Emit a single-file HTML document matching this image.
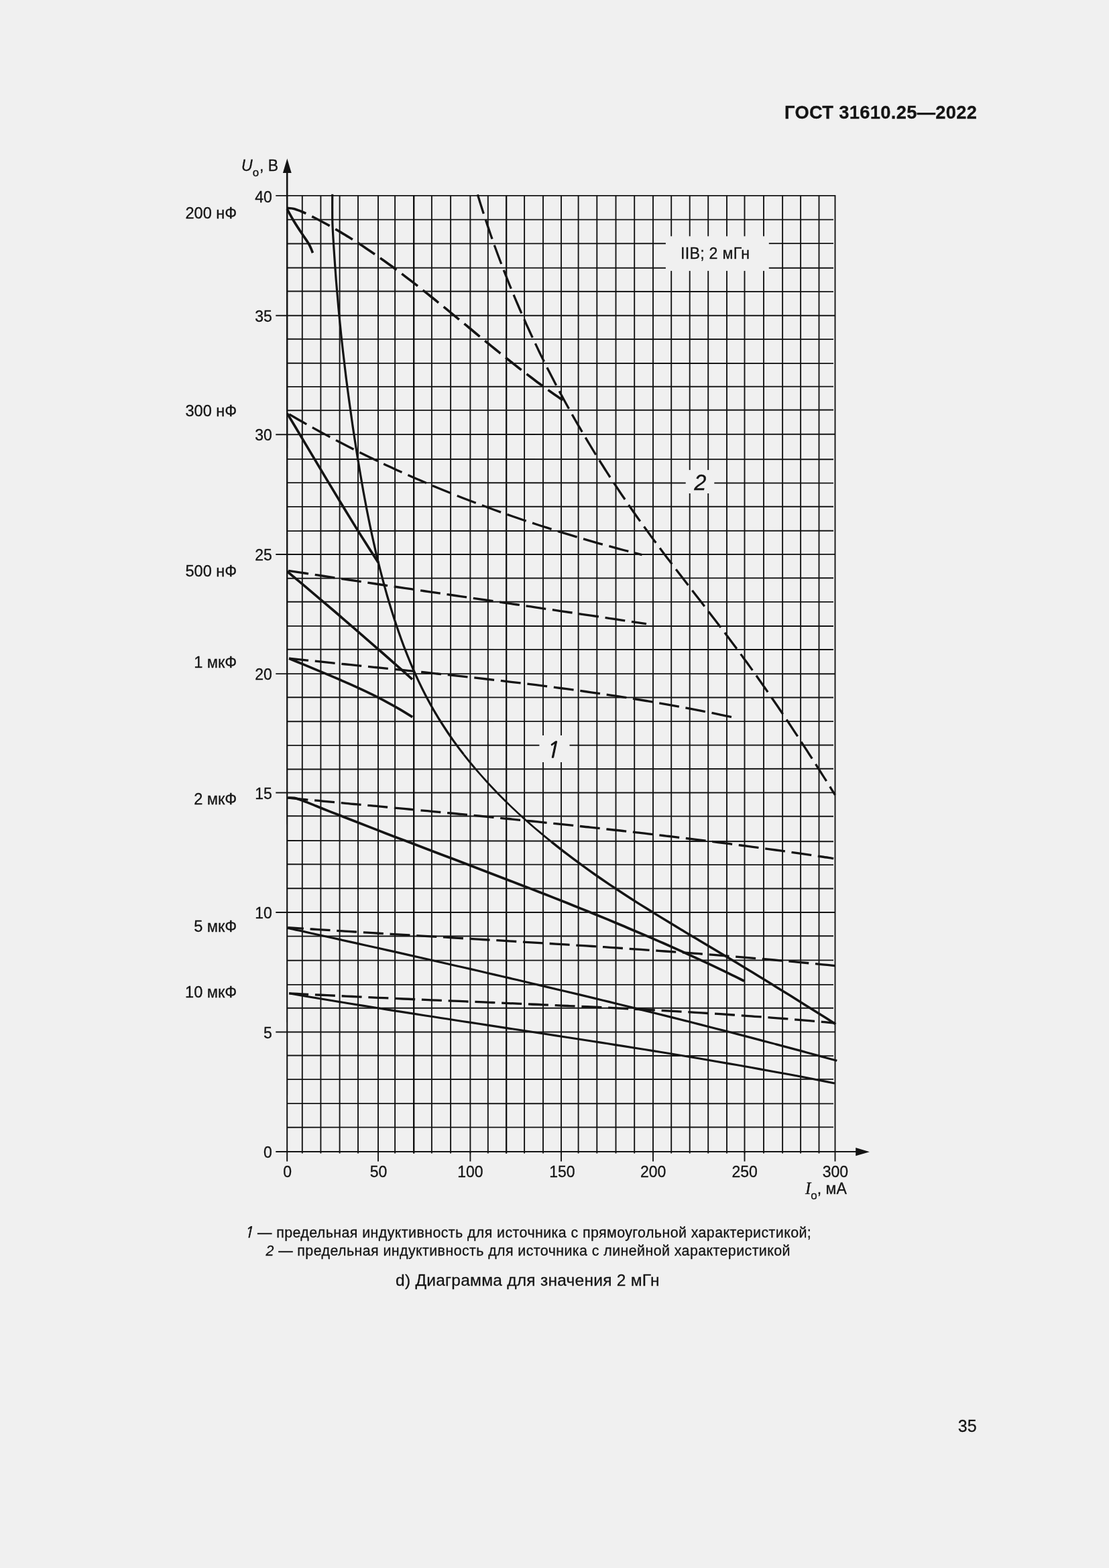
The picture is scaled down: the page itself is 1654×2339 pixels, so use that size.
<!DOCTYPE html>
<html lang="ru"><head><meta charset="utf-8"><title>ГОСТ 31610.25—2022</title>
<style>
html,body{margin:0;padding:0;background:#f0f0f0;}
body{width:1654px;height:2339px;overflow:hidden;position:relative;}
svg{position:absolute;left:0;top:0;display:block;}
text{font-family:"Liberation Sans",sans-serif;fill:#141414;stroke:#141414;stroke-width:0.3px;}
.t{font-size:23px;}
.r{text-anchor:end;}
.m{text-anchor:middle;}
.i{font-style:italic;}
.g{stroke:#141414;stroke-width:1.9;fill:none;}
.c{stroke:#141414;fill:none;stroke-linecap:butt;stroke-linejoin:round;}
</style></head><body>
<svg width="1654" height="2339" viewBox="0 0 1654 2339">
<rect x="0" y="0" width="1654" height="2339" fill="#f0f0f0"/>
<text x="1170" y="176.9" textLength="287" lengthAdjust="spacing" style="font-size:27.3px;font-weight:bold">ГОСТ 31610.25—2022</text>
<path class="g" d="M450.8 291.9V1720.5M478.4 291.9V1720.5M506.6 291.9V1720.5M534 291.9V1720.5M564 291.9V1720.5M589.1 291.9V1720.5M617.2 291.9V1720.5M643.9 291.9V1720.5M672.1 291.9V1720.5M701.4 291.9V1720.5M727.8 291.9V1720.5M755.2 291.9V1720.5M782.1 291.9V1720.5M810 291.9V1720.5M837 291.9V1720.5M862.6 291.9V1720.5M890.3 291.9V1720.5M918.5 291.9V1720.5M946.2 291.9V1720.5M974 291.9V1720.5M1001.2 291.9V1720.5M1028.7 291.9V1720.5M1056.2 291.9V1720.5M1084 291.9V1720.5M1110.5 291.9V1720.5M1139 291.9V1720.5M1167.1 291.9V1720.5M1194.1 291.9V1720.5M1221.5 291.9V1720.5"/>
<path class="g" d="M428 1681.7L1243 1681.4M428 1646.1L1243 1646.4M428 1610.1L1243 1609.9M428 1574.5L1243 1575.1M411.3 1539.5L1245.5 1539.4M428 1503.8L1243 1503.7M428 1468.9L1243 1468.9M428 1432.7L1243 1432.4M428 1396.6L1243 1396.2M411.3 1361L1245.5 1361M428 1325.3L1243 1325.5M428 1289.3L1243 1290.1M428 1254L1243 1255.3M428 1217.3L1243 1217.7M411.3 1182.5L1245.5 1182.4M428 1147.5L1243 1146.8M428 1111.9L1243 1111.5M428 1076.2L1243 1076.1M428 1040.3L1243 1040.5M411.3 1005.1L1245.5 1005.2M428 968.8L1243 969M428 933.9L1243 934M428 897.7L1243 897.9M428 862.7L1243 862.3M411.3 827L1245.5 826.9M428 792.1L1243 791.8M428 755.9L1243 755.7M428 720.1L1243 720.6M428 684.9L1243 685.2M411.3 648.2L1245.5 647.8M428 612.2L1243 611.5M428 576.9L1243 576.6M428 541.8L1243 542.1M428 505.8L1243 506.1M411.3 470.8L1245.5 470.8M428 434.5L1243 435.1M428 399.5L1243 399.8M428 363.5L1243 363.1M428 327.6L1243 327.6"/>
<path class="g" d="M411.3 291.9H1246.4M1245.5 291.9V1732.6"/>
<path class="g" style="stroke-width:2.1;stroke:#080808" d="M617.2 291.9V1720.5"/>
<path fill="#141414" d="M426.9 250H429.5L429.2 1732.6H427.2Z"/>
<path class="g" style="stroke-width:2.1" d="M411.3 1718H1280"/>
<path class="g" style="stroke-width:2.2" d="M755.1 291.9V1720.5"/>
<path class="g" d="M564 1718V1732.6M701.4 1718V1732.6M837 1718V1732.6M974 1718V1732.6M1110.5 1718V1732.6"/>
<path fill="#141414" d="M428.3 236.5L434.7 258H421.9Z"/>
<path fill="#141414" d="M1296.9 1718.2L1276.2 1712.1V1724.3Z"/>
<rect x="992.9" y="352.4" width="153.9" height="51.7" fill="#f0f0f0"/>
<rect x="1022.7" y="701.1" width="42.6" height="34.9" fill="#f0f0f0"/>
<rect x="804.4" y="1097" width="45.1" height="40" fill="#f0f0f0"/>
<path class="c" stroke-width="3.7" d="M428.1 311.8C429.8 314.9 434.7 323.9 438.5 330.2C442.3 336.5 447.4 344.1 451 349.5C454.6 354.9 457.7 359.2 459.9 362.8C462.1 366.4 462.9 368.6 464 371C465.1 373.4 466 376.2 466.4 377.2"/>
<path class="c" stroke-width="3.6" stroke-dasharray="30 9.80" stroke-dashoffset="0.26" d="M428.1 310.3C429.8 310.5 434.9 310.5 438.5 311.4C442.1 312.3 446.6 314.3 449.6 315.5C452.6 316.7 452.9 316.8 456.2 318.4C459.5 320 465.1 322.8 469.5 325C474 327.3 478.3 329.6 482.7 332C487.1 334.3 491.4 336.7 495.7 339.2C500 341.6 504.2 344.1 508.5 346.6C512.7 349.1 516.9 351.7 521.1 354.3C525.3 356.9 529.5 359.6 533.6 362.2C537.8 364.9 541.9 367.6 546 370.4C550.1 373.1 554.2 375.9 558.2 378.7C562.3 381.5 566.3 384.3 570.3 387.2C574.3 390 578.3 392.9 582.3 395.8C586.3 398.7 590.3 401.7 594.2 404.6C598.2 407.6 602.1 410.6 606 413.6C610 416.6 613.9 419.6 617.8 422.6C621.7 425.7 625.6 428.7 629.4 431.8C633.3 434.9 637.2 437.9 641 441C644.9 444.1 648.8 447.2 652.6 450.3C656.4 453.5 660.3 456.6 664.1 459.7C668 462.9 671.8 466 675.6 469.1C679.4 472.3 683.3 475.4 687.1 478.6C690.9 481.7 694.7 484.9 698.6 488C702.4 491.2 706.2 494.3 710 497.5C713.8 500.6 717.7 503.8 721.5 506.9C725.3 510.1 729.2 513.2 733 516.3C736.8 519.4 740.7 522.6 744.5 525.7C748.4 528.8 752.2 531.9 756.1 535C760 538 763.9 541.1 767.7 544.2C771.6 547.2 775.5 550.3 779.4 553.3C783.4 556.3 787.3 559.3 791.2 562.3C795.1 565.3 799.1 568.2 803.1 571.2C807 574.1 811 577 815 579.9C819 582.8 823 585.6 827 588.5C831.1 591.3 837.2 595.5 839.2 596.9"/>
<path class="c" stroke-width="3.3" stroke-dasharray="30 9.76" stroke-dashoffset="-0.06" d="M712.3 290.1C713.1 292.6 715.4 300.3 717 305.3C718.6 310.4 720.2 315.5 721.9 320.5C723.5 325.6 725.2 330.6 726.9 335.6C728.6 340.7 730.3 345.7 732 350.7C733.8 355.7 735.6 360.7 737.3 365.7C739.1 370.7 741 375.7 742.8 380.7C744.6 385.6 746.5 390.6 748.4 395.5C750.3 400.5 752.2 405.4 754.2 410.4C756.1 415.3 758.1 420.2 760 425.1C762 430 764 434.9 766.1 439.8C768.1 444.7 770.2 449.6 772.3 454.5C774.3 459.3 776.4 464.2 778.6 469C780.7 473.9 782.9 478.7 785 483.6C787.2 488.4 789.4 493.2 791.6 498C793.9 502.8 796.1 507.6 798.4 512.4C800.6 517.2 802.9 521.9 805.2 526.7C807.5 531.5 809.9 536.2 812.2 541C814.6 545.7 817 550.4 819.4 555.1C821.8 559.8 824.2 564.5 826.7 569.2C829.1 573.9 831.6 578.6 834.1 583.3C836.5 588 839.1 592.6 841.6 597.3C844.1 601.9 846.7 606.5 849.3 611.2C851.8 615.8 854.4 620.4 857 625C859.7 629.6 862.3 634.2 865 638.7C867.6 643.3 870.3 647.9 873 652.4C875.7 657 878.4 661.5 881.2 666C883.9 670.6 886.7 675.1 889.5 679.6C892.3 684.1 895.1 688.6 897.9 693C900.7 697.5 903.6 702 906.4 706.4C909.3 710.9 912.2 715.3 915.1 719.7C918 724.1 920.9 728.6 923.9 733C926.8 737.4 929.8 741.7 932.8 746.1C935.8 750.5 938.8 754.8 941.8 759.2C944.8 763.5 947.8 767.9 950.9 772.2C954 776.5 957.1 780.8 960.2 785.1C963.3 789.4 966.4 793.7 969.5 797.9C972.6 802.2 975.8 806.5 978.9 810.7C982.1 815 985.3 819.2 988.5 823.4C991.7 827.7 994.9 831.9 998.1 836.1C1001.3 840.3 1004.5 844.5 1007.7 848.7C1010.9 852.9 1014.2 857.1 1017.4 861.3C1020.6 865.5 1023.9 869.7 1027.1 873.9C1030.3 878.1 1033.6 882.3 1036.8 886.5C1040.1 890.7 1043.3 894.9 1046.6 899.1C1049.8 903.3 1053 907.5 1056.3 911.6C1059.5 915.8 1062.7 920 1066 924.2C1069.2 928.5 1072.4 932.7 1075.6 936.9C1078.8 941.1 1082 945.3 1085.2 949.5C1088.4 953.8 1091.6 958 1094.7 962.2C1097.9 966.5 1101.1 970.7 1104.2 975C1107.3 979.3 1110.5 983.5 1113.6 987.8C1116.7 992.1 1119.8 996.4 1122.9 1000.7C1125.9 1005 1129 1009.3 1132.1 1013.7C1135.1 1018 1138.1 1022.3 1141.2 1026.7C1144.2 1031 1147.2 1035.3 1150.2 1039.7C1153.2 1044.1 1156.2 1048.4 1159.2 1052.8C1162.1 1057.2 1165.1 1061.6 1168.1 1065.9C1171 1070.3 1174 1074.7 1176.9 1079.1C1179.8 1083.5 1182.7 1087.9 1185.6 1092.4C1188.6 1096.8 1191.5 1101.2 1194.3 1105.6C1197.2 1110.1 1200.1 1114.5 1203 1118.9C1205.9 1123.4 1208.7 1127.8 1211.6 1132.3C1214.4 1136.7 1217.3 1141.1 1220.1 1145.6C1223 1150.1 1225.8 1154.5 1228.6 1159C1231.4 1163.4 1234.3 1167.9 1237.1 1172.4C1239.9 1176.9 1244.1 1183.6 1245.5 1185.8"/>
<path class="c" stroke-width="3.2" d="M495.7 289.8C495.7 295.7 495.6 316.8 495.7 325C495.8 333.2 495.8 332.3 496.1 339.1C496.4 345.9 497.1 356.8 497.6 365.6C498.2 374.4 498.8 383.2 499.4 392.1C500 400.9 500.7 409.7 501.3 418.5C502 427.3 502.8 436.1 503.6 444.9C504.3 453.7 505.1 462.5 506 471.3C506.8 480.1 507.7 488.8 508.6 497.6C509.5 506.4 510.5 515.2 511.5 523.9C512.5 532.7 513.5 541.5 514.6 550.2C515.6 559 516.7 567.7 517.9 576.5C519 585.2 520.2 594 521.4 602.7C522.6 611.5 523.8 620.2 525.1 628.9C526.3 637.6 527.7 646.4 529 655.1C530.3 663.8 531.7 672.5 533.1 681.2C534.5 689.9 536 698.7 537.5 707.4C539 716.1 540.5 724.8 542 733.4C543.6 742.1 545.2 750.8 546.9 759.5C548.6 768.1 550.3 776.8 552.1 785.4C554 794.1 555.8 802.7 557.8 811.3C559.7 820 561.7 828.6 563.8 837.2C565.9 845.8 568.1 854.3 570.4 862.9C572.6 871.5 575 880 577.4 888.5C579.9 897 582.4 905.5 585.1 914C587.8 922.5 590.5 930.9 593.4 939.3C596.3 947.7 599.3 956.1 602.4 964.4C605.6 972.7 608.9 980.9 612.3 989.1C615.7 997.2 619.3 1005.3 623 1013.3C626.7 1021.3 630.6 1029.2 634.6 1037C638.7 1044.8 642.9 1052.6 647.3 1060.1C651.7 1067.7 656.3 1075.2 661.1 1082.5C665.8 1089.9 670.7 1097.1 675.8 1104.3C680.9 1111.4 686.1 1118.4 691.5 1125.3"/>
<path class="c" stroke-width="3.0" d="M691.5 1125.3C696.9 1132.2 702.4 1139 708.1 1145.7"/>
<path class="c" stroke-width="2.7" d="M708.1 1145.7C713.7 1152.4 719.6 1159 725.5 1165.5C731.4 1172 737.5 1178.4 743.6 1184.7C749.8 1191 756.1 1197.2 762.5 1203.4C768.9 1209.5 775.4 1215.5 782 1221.4C788.6 1227.3 795.3 1233.2 802 1238.9C808.8 1244.7 815.7 1250.4 822.6 1255.9"/>
<path class="c" stroke-width="3.5" d="M822.6 1255.9C829.5 1261.5 836.5 1267 843.6 1272.4C850.6 1277.8 857.8 1283.2 865 1288.4C872.1 1293.7 879.4 1298.9 886.6 1304C893.9 1309.1 901.2 1314.1 908.6 1319.1C915.9 1324 923.3 1328.9 930.7 1333.8C938.1 1338.6 945.6 1343.3 953 1348.1C960.5 1352.8 967.9 1357.4 975.4 1362.1C982.9 1366.7 990.4 1371.3 997.9 1375.8C1005.4 1380.4 1012.9 1384.9 1020.5 1389.4C1028 1394 1035.6 1398.5 1043.1 1403C1050.7 1407.5 1058.2 1412 1065.8 1416.5C1073.3 1421 1080.9 1425.5 1088.4 1430C1096 1434.6 1103.5 1439.1 1111.1 1443.7C1118.6 1448.3 1126.2 1452.9 1133.7 1457.5C1141.2 1462.1 1148.8 1466.7 1156.3 1471.4C1163.8 1476 1171.3 1480.7 1178.9 1485.3C1186.4 1490 1193.9 1494.7 1201.4 1499.4C1208.9 1504.1 1216.4 1508.8 1223.9 1513.5C1231.3 1518.2 1242.6 1525.3 1246.3 1527.7"/>
<path class="c" stroke-width="3.7" d="M428.3 616.6C431.5 621.9 441.1 637.9 447.5 648.6C453.9 659.2 460.2 669.9 466.6 680.6C473 691.3 479.3 702 485.7 712.6C492.1 723.3 498.5 734 505 744.6C511.4 755.2 517.9 765.9 524.4 776.4C530.9 787 537.5 797.6 544.2 808C550.9 818.5 561 834.2 564.4 839.4"/>
<path class="c" stroke-width="3.3" stroke-dasharray="30 9.81" stroke-dashoffset="-3.45" d="M428.3 616.2C431 617.7 438.9 622.4 444.2 625.5C449.6 628.5 454.9 631.6 460.3 634.6C465.6 637.6 471 640.5 476.4 643.5C481.8 646.4 487.2 649.4 492.6 652.2C498.1 655.1 503.5 658 509 660.8C514.4 663.6 519.9 666.4 525.4 669.2C530.9 672 536.4 674.7 541.9 677.5C547.4 680.2 552.9 682.9 558.5 685.5C564 688.2 569.5 690.8 575.1 693.4C580.7 696 586.3 698.6 591.9 701.2C597.5 703.7 603.1 706.2 608.7 708.7C614.3 711.2 619.9 713.7 625.6 716.1C631.2 718.6 636.9 721 642.5 723.4C648.2 725.8 653.9 728.1 659.6 730.5C665.3 732.8 671 735.1 676.7 737.4C682.4 739.7 688.1 742 693.9 744.2C699.6 746.4 705.3 748.6 711.1 750.8C716.8 753 722.6 755.1 728.4 757.3C734.2 759.4 739.9 761.5 745.7 763.6C751.5 765.6 757.3 767.7 763.1 769.7C769 771.7 774.8 773.7 780.6 775.7C786.4 777.7 792.3 779.6 798.1 781.5C803.9 783.5 809.8 785.4 815.7 787.2C821.5 789.1 827.4 791 833.3 792.8C839.1 794.6 845 796.4 850.9 798.2C856.8 800 862.7 801.7 868.6 803.5C874.5 805.2 880.4 806.9 886.3 808.6C892.2 810.3 898.1 811.9 904.1 813.5C910 815.2 915.9 816.8 921.8 818.4C927.8 820 933.7 821.5 939.7 823.1C945.6 824.6 954.5 826.8 957.5 827.6"/>
<path class="c" stroke-width="3.7" d="M428.4 852.5C432.3 855.8 444.2 865.6 452 872.2C459.9 878.8 467.7 885.5 475.5 892.1C483.4 898.7 491.2 905.4 499 912C506.8 918.7 514.5 925.4 522.3 932.1C530.1 938.8 537.8 945.5 545.6 952.3C553.3 959 561.1 965.7 568.8 972.5C576.5 979.3 584.2 986.1 591.9 992.9C599.6 999.7 611.1 1009.9 614.9 1013.3"/>
<path class="c" stroke-width="3.3" stroke-dasharray="30 9.78" stroke-dashoffset="-2.00" d="M428.4 851C431.5 851.5 440.7 852.9 446.9 853.8C453 854.8 459.2 855.7 465.3 856.7C471.5 857.6 477.6 858.5 483.8 859.5C489.9 860.4 496.1 861.3 502.2 862.2C508.4 863.2 514.6 864.1 520.7 865C526.9 865.9 533 866.9 539.2 867.8C545.3 868.7 551.5 869.6 557.7 870.5C563.8 871.5 570 872.4 576.1 873.3C582.3 874.2 588.4 875.1 594.6 876C600.8 876.9 606.9 877.8 613.1 878.7C619.2 879.6 625.4 880.6 631.6 881.5C637.7 882.4 643.9 883.3 650 884.2C656.2 885.1 662.4 886 668.5 886.9C674.7 887.8 680.8 888.7 687 889.6C693.1 890.5 699.3 891.4 705.5 892.3C711.6 893.2 717.8 894.1 723.9 895C730.1 895.9 736.3 896.8 742.4 897.7C748.6 898.6 754.7 899.5 760.9 900.4C767.1 901.3 773.2 902.2 779.4 903.1C785.5 904 791.7 904.9 797.8 905.9C804 906.8 810.2 907.7 816.3 908.6C822.5 909.5 828.6 910.4 834.8 911.3C840.9 912.2 847.1 913.1 853.3 914C859.4 915 865.6 915.9 871.7 916.8C877.9 917.7 884 918.6 890.2 919.5C896.3 920.5 902.5 921.4 908.6 922.3C914.8 923.2 920.9 924.2 927.1 925.1C933.2 926 939.4 927 945.5 927.9C951.7 928.8 960.9 930.2 964 930.7"/>
<path class="c" stroke-width="3.7" d="M431.1 982.2C434.6 983.7 445 988 452 990.9C458.9 993.8 465.9 996.7 472.9 999.6C479.9 1002.5 486.9 1005.4 493.9 1008.4C500.8 1011.3 507.8 1014.3 514.7 1017.4C521.6 1020.4 528.6 1023.5 535.4 1026.7C542.3 1029.9 549.1 1033.1 555.9 1036.4C562.7 1039.8 569.4 1043.2 576.1 1046.8C582.7 1050.3 589.3 1054 595.9 1057.8C602.4 1061.6 612 1067.6 615.2 1069.6"/>
<path class="c" stroke-width="3.3" stroke-dasharray="30 9.80" stroke-dashoffset="0.92" d="M431.1 982.1C434.2 982.4 443.4 983.4 449.5 984.1C455.6 984.7 461.8 985.4 467.9 986C474 986.6 480.2 987.3 486.3 987.9C492.4 988.5 498.6 989.2 504.7 989.8C510.8 990.4 517 991.1 523.1 991.7C529.3 992.3 535.4 993 541.5 993.6C547.7 994.2 553.8 994.8 559.9 995.5C566.1 996.1 572.2 996.7 578.4 997.3C584.5 998 590.6 998.6 596.8 999.2C602.9 999.9 609.1 1000.5 615.2 1001.1C621.4 1001.8 627.5 1002.4 633.6 1003C639.8 1003.7 645.9 1004.3 652 1005C658.2 1005.6 664.3 1006.3 670.5 1006.9C676.6 1007.6 682.7 1008.2 688.9 1008.9C695 1009.6 701.1 1010.3 707.3 1010.9C713.4 1011.6 719.5 1012.3 725.7 1013C731.8 1013.7 737.9 1014.4 744.1 1015.1C750.2 1015.8 756.3 1016.5 762.5 1017.3C768.6 1018 774.7 1018.7 780.8 1019.5C787 1020.2 793.1 1021 799.2 1021.7C805.3 1022.5 811.5 1023.3 817.6 1024.1C823.7 1024.9 829.8 1025.7 835.9 1026.5C842 1027.3 848.2 1028.1 854.3 1028.9C860.4 1029.8 866.5 1030.6 872.6 1031.5C878.7 1032.4 884.8 1033.2 890.9 1034.1C897 1035 903.1 1035.9 909.2 1036.8C915.3 1037.7 921.4 1038.7 927.5 1039.6C933.6 1040.6 939.7 1041.5 945.7 1042.5C951.8 1043.5 957.9 1044.5 964 1045.5C970.1 1046.5 976.2 1047.6 982.2 1048.6C988.3 1049.7 994.4 1050.8 1000.4 1051.8C1006.5 1052.9 1012.6 1054 1018.6 1055.2C1024.7 1056.3 1030.8 1057.4 1036.8 1058.6C1042.9 1059.8 1048.9 1061 1055 1062.2C1061 1063.4 1067.1 1064.6 1073.1 1065.9C1079.1 1067.1 1088.2 1069.1 1091.2 1069.7"/>
<path class="c" stroke-width="3.7" d="M429.2 1190.2C430.8 1190.2 435.4 1189.8 439 1190.4C442.6 1191 445.4 1192 450.8 1194C456.2 1196 464.5 1199.6 471.4 1202.3C478.3 1205.1 485.2 1207.8 492.1 1210.6C499 1213.3 505.9 1216 512.8 1218.7C519.7 1221.4 526.6 1224.1 533.5 1226.8C540.4 1229.5 547.3 1232.2 554.3 1234.9C561.2 1237.6 568.1 1240.2 575 1242.9C582 1245.6 588.9 1248.2 595.8 1250.9C602.7 1253.5 609.7 1256.2 616.6 1258.8C623.6 1261.5 630.5 1264.1 637.4 1266.7C644.4 1269.4 651.3 1272 658.3 1274.7C665.2 1277.3 672.1 1279.9 679.1 1282.6C686 1285.2 693 1287.9 699.9 1290.5C706.8 1293.1 713.8 1295.8 720.7 1298.4C727.6 1301.1 734.6 1303.7 741.5 1306.4C748.4 1309.1 755.4 1311.7 762.3 1314.4C769.2 1317.1 776.2 1319.7 783.1 1322.4C790 1325.1 796.9 1327.8 803.8 1330.5C810.7 1333.2 817.7 1335.9 824.6 1338.6C831.5 1341.4 838.4 1344.1 845.3 1346.8C852.2 1349.6 859 1352.3 865.9 1355.1C872.8 1357.9 879.7 1360.7 886.6 1363.5C893.4 1366.3 900.3 1369.1 907.2 1371.9C914 1374.8 920.9 1377.6 927.7 1380.5C934.5 1383.4 941.4 1386.2 948.2 1389.2C955 1392.1 961.8 1395 968.6 1397.9C975.5 1400.9 982.2 1403.9 989 1406.8C995.8 1409.8 1002.6 1412.8 1009.4 1415.9C1016.1 1418.9 1022.9 1422 1029.6 1425.1C1036.4 1428.2 1043.1 1431.3 1049.8 1434.4C1056.6 1437.5 1063.3 1440.7 1070 1443.9C1076.7 1447.1 1083.4 1450.3 1090 1453.6C1096.7 1456.8 1106.7 1461.8 1110 1463.4"/>
<path class="c" stroke-width="3.3" stroke-dasharray="30 9.76" stroke-dashoffset="-0.32" d="M429.2 1190.2C432.1 1190.5 440.8 1191.3 446.5 1191.8C452.3 1192.4 458.1 1192.9 463.9 1193.5C469.7 1194 475.5 1194.5 481.2 1195.1C487 1195.6 492.8 1196.2 498.6 1196.7C504.4 1197.2 510.2 1197.8 516 1198.3C521.7 1198.9 527.5 1199.4 533.3 1199.9C539.1 1200.5 544.9 1201 550.7 1201.6C556.4 1202.1 562.2 1202.6 568 1203.2C573.8 1203.7 579.6 1204.3 585.4 1204.8C591.2 1205.3 596.9 1205.9 602.7 1206.4C608.5 1207 614.3 1207.5 620.1 1208.1C625.9 1208.6 631.7 1209.2 637.4 1209.7C643.2 1210.3 649 1210.8 654.8 1211.4C660.6 1211.9 666.4 1212.5 672.1 1213C677.9 1213.6 683.7 1214.2 689.5 1214.7C695.3 1215.3 701.1 1215.8 706.8 1216.4C712.6 1217 718.4 1217.5 724.2 1218.1C730 1218.7 735.8 1219.2 741.5 1219.8C747.3 1220.4 753.1 1221 758.9 1221.5C764.7 1222.1 770.5 1222.7 776.2 1223.3C782 1223.9 787.8 1224.5 793.6 1225C799.4 1225.6 805.1 1226.2 810.9 1226.8C816.7 1227.4 822.5 1228 828.3 1228.6C834 1229.2 839.8 1229.8 845.6 1230.4C851.4 1231.1 857.2 1231.7 862.9 1232.3C868.7 1232.9 874.5 1233.5 880.3 1234.2C886 1234.8 891.8 1235.4 897.6 1236C903.4 1236.7 909.1 1237.3 914.9 1238C920.7 1238.6 926.5 1239.2 932.2 1239.9C938 1240.5 943.8 1241.2 949.6 1241.9C955.3 1242.5 961.1 1243.2 966.9 1243.9C972.6 1244.5 978.4 1245.2 984.2 1245.9C989.9 1246.6 995.7 1247.3 1001.5 1247.9C1007.2 1248.6 1013 1249.3 1018.8 1250C1024.5 1250.7 1030.3 1251.4 1036.1 1252.2C1041.8 1252.9 1047.6 1253.6 1053.4 1254.3C1059.1 1255 1064.9 1255.8 1070.7 1256.5C1076.4 1257.2 1082.2 1258 1087.9 1258.7C1093.7 1259.5 1099.5 1260.2 1105.2 1261C1111 1261.8 1116.7 1262.5 1122.5 1263.3C1128.2 1264.1 1134 1264.9 1139.7 1265.6C1145.5 1266.4 1151.2 1267.2 1157 1268C1162.8 1268.8 1168.5 1269.6 1174.3 1270.4C1180 1271.3 1185.8 1272.1 1191.5 1272.9C1197.2 1273.7 1203 1274.6 1208.7 1275.4C1214.5 1276.3 1220.2 1277.1 1226 1278C1231.7 1278.8 1240.3 1280.2 1243.2 1280.6"/>
<path class="c" stroke-width="3.2" d="M429.2 1384.4C433 1385.2 444.4 1387.8 452.1 1389.4C459.7 1391.1 467.3 1392.8 474.9 1394.5C482.5 1396.2 490.2 1397.8 497.8 1399.5C505.4 1401.2 513 1402.9 520.6 1404.6C528.2 1406.3 535.9 1408 543.5 1409.7C551.1 1411.4 558.7 1413.1 566.3 1414.8C573.9 1416.5 581.6 1418.2 589.2 1419.9C596.8 1421.7 604.4 1423.4 612 1425.1C619.6 1426.8 627.2 1428.5 634.8 1430.3C642.4 1432 650.1 1433.7 657.7 1435.5C665.3 1437.2 672.9 1438.9 680.5 1440.7C688.1 1442.4 695.7 1444.2 703.3 1445.9C710.9 1447.7 718.5 1449.4 726.1 1451.2C733.7 1453 741.3 1454.7 748.9 1456.5C756.5 1458.3 764.1 1460 771.7 1461.8C779.3 1463.6 786.9 1465.4 794.5 1467.2C802.1 1469 809.7 1470.8 817.3 1472.6C824.9 1474.4 832.5 1476.2 840.1 1478C847.6 1479.8 855.2 1481.6 862.8 1483.4C870.4 1485.3 878 1487.1 885.6 1488.9C893.2 1490.8 900.7 1492.6 908.3 1494.4C915.9 1496.3 923.5 1498.1 931.1 1500C938.6 1501.9 946.2 1503.7 953.8 1505.6C961.4 1507.5 968.9 1509.3 976.5 1511.2C984.1 1513.1 991.7 1515 999.2 1516.9C1006.8 1518.8 1014.4 1520.7 1021.9 1522.6C1029.5 1524.5 1037.1 1526.5 1044.6 1528.4C1052.2 1530.3 1059.7 1532.2 1067.3 1534.2C1074.9 1536.1 1082.4 1538.1 1090 1540C1097.5 1542 1105.1 1544 1112.6 1545.9C1120.2 1547.9 1127.7 1549.9 1135.3 1551.9C1142.8 1553.9 1150.4 1555.8 1157.9 1557.9C1165.4 1559.9 1173 1561.9 1180.5 1563.9C1188.1 1565.9 1195.6 1567.9 1203.1 1570C1210.7 1572 1218.2 1574.1 1225.7 1576.1C1233.2 1578.2 1244.5 1581.3 1248.3 1582.3"/>
<path class="c" stroke-width="3.3" stroke-dasharray="30 9.75" stroke-dashoffset="6.33" d="M429.2 1383.6C432.2 1383.8 441.3 1384.4 447.3 1384.8C453.4 1385.2 459.4 1385.6 465.5 1386C471.5 1386.4 477.6 1386.8 483.6 1387.2C489.7 1387.5 495.7 1387.9 501.8 1388.3C507.8 1388.7 513.9 1389.1 519.9 1389.4C526 1389.8 532 1390.2 538.1 1390.6C544.1 1390.9 550.2 1391.3 556.2 1391.7C562.3 1392.1 568.3 1392.4 574.4 1392.8C580.4 1393.2 586.5 1393.5 592.5 1393.9C598.6 1394.3 604.6 1394.6 610.7 1395C616.7 1395.3 622.8 1395.7 628.9 1396.1C634.9 1396.4 641 1396.8 647 1397.1C653.1 1397.5 659.1 1397.9 665.2 1398.2C671.2 1398.6 677.3 1398.9 683.3 1399.3C689.4 1399.7 695.4 1400 701.5 1400.4C707.5 1400.7 713.6 1401.1 719.6 1401.5C725.7 1401.8 731.7 1402.2 737.8 1402.5C743.8 1402.9 749.9 1403.3 756 1403.6C762 1404 768.1 1404.4 774.1 1404.7C780.2 1405.1 786.2 1405.5 792.3 1405.8C798.3 1406.2 804.4 1406.6 810.4 1407C816.5 1407.3 822.5 1407.7 828.6 1408.1C834.6 1408.5 840.7 1408.8 846.7 1409.2C852.8 1409.6 858.8 1410 864.9 1410.4C870.9 1410.8 877 1411.1 883 1411.5C889.1 1411.9 895.1 1412.3 901.2 1412.7C907.2 1413.1 913.3 1413.5 919.3 1413.9C925.4 1414.3 931.4 1414.7 937.5 1415.2C943.5 1415.6 949.5 1416 955.6 1416.4C961.6 1416.8 967.7 1417.2 973.7 1417.7C979.8 1418.1 985.8 1418.5 991.9 1419C997.9 1419.4 1003.9 1419.9 1010 1420.3C1016 1420.7 1022.1 1421.2 1028.1 1421.6C1034.2 1422.1 1040.2 1422.6 1046.2 1423C1052.3 1423.5 1058.3 1424 1064.4 1424.4C1070.4 1424.9 1076.4 1425.4 1082.5 1425.9C1088.5 1426.4 1094.5 1426.9 1100.6 1427.4C1106.6 1427.9 1112.7 1428.4 1118.7 1428.9C1124.7 1429.4 1130.8 1429.9 1136.8 1430.4C1142.8 1430.9 1148.9 1431.5 1154.9 1432C1160.9 1432.6 1167 1433.1 1173 1433.6C1179 1434.2 1185 1434.8 1191.1 1435.3C1197.1 1435.9 1203.1 1436.5 1209.2 1437C1215.2 1437.6 1221.2 1438.2 1227.2 1438.8C1233.3 1439.4 1242.3 1440.3 1245.3 1440.6"/>
<path class="c" stroke-width="3.1" d="M431.1 1481.8C434.9 1482.4 446.2 1484.4 453.7 1485.7C461.2 1487 468.7 1488.2 476.3 1489.5C483.8 1490.8 491.3 1492 498.9 1493.3C506.4 1494.5 513.9 1495.7 521.5 1497C529 1498.2 536.5 1499.4 544.1 1500.6C551.6 1501.9 559.2 1503.1 566.7 1504.3C574.2 1505.5 581.8 1506.7 589.3 1507.9C596.9 1509.1 604.4 1510.2 612 1511.4C619.5 1512.6 627 1513.8 634.6 1515C642.1 1516.1 649.7 1517.3 657.2 1518.5C664.8 1519.6 672.3 1520.8 679.9 1522C687.4 1523.1 695 1524.3 702.5 1525.4C710.1 1526.6 717.6 1527.8 725.2 1528.9C732.7 1530.1 740.3 1531.2 747.8 1532.4C755.4 1533.5 762.9 1534.7 770.5 1535.8C778 1537 785.6 1538.1 793.1 1539.3C800.7 1540.5 808.2 1541.6 815.8 1542.8C823.3 1543.9 830.9 1545.1 838.4 1546.3C846 1547.4 853.5 1548.6 861.1 1549.7C868.6 1550.9 876.1 1552.1 883.7 1553.3C891.2 1554.4 898.8 1555.6 906.3 1556.8C913.9 1558 921.4 1559.2 929 1560.4C936.5 1561.6 944 1562.8 951.6 1564C959.1 1565.2 966.7 1566.4 974.2 1567.6C981.7 1568.9 989.3 1570.1 996.8 1571.3C1004.3 1572.6 1011.9 1573.8 1019.4 1575C1026.9 1576.3 1034.5 1577.6 1042 1578.8C1049.5 1580.1 1057.1 1581.4 1064.6 1582.7C1072.1 1584 1079.6 1585.3 1087.2 1586.6C1094.7 1587.9 1102.2 1589.2 1109.7 1590.5C1117.2 1591.9 1124.8 1593.2 1132.3 1594.6C1139.8 1595.9 1147.3 1597.3 1154.8 1598.7C1162.3 1600 1169.8 1601.4 1177.3 1602.8C1184.8 1604.3 1192.3 1605.7 1199.8 1607.1C1207.3 1608.5 1214.8 1610 1222.3 1611.5C1229.8 1612.9 1241.1 1615.2 1244.8 1615.9"/>
<path class="c" stroke-width="3.3" stroke-dasharray="30 9.79" stroke-dashoffset="0.96" d="M431.1 1481.8C434.3 1482 443.7 1482.5 450 1482.8C456.3 1483.1 462.7 1483.5 469 1483.8C475.3 1484.1 481.6 1484.4 487.9 1484.7C494.2 1485 500.5 1485.3 506.8 1485.6C513.1 1485.9 519.5 1486.2 525.8 1486.5C532.1 1486.8 538.4 1487.1 544.7 1487.4C551 1487.7 557.3 1488 563.7 1488.3C570 1488.6 576.3 1488.8 582.6 1489.1C588.9 1489.4 595.2 1489.7 601.5 1490C607.9 1490.2 614.2 1490.5 620.5 1490.8C626.8 1491 633.1 1491.3 639.4 1491.6C645.7 1491.8 652.1 1492.1 658.4 1492.4C664.7 1492.6 671 1492.9 677.3 1493.2C683.6 1493.4 689.9 1493.7 696.3 1494C702.6 1494.2 708.9 1494.5 715.2 1494.7C721.5 1495 727.8 1495.3 734.2 1495.5C740.5 1495.8 746.8 1496.1 753.1 1496.3C759.4 1496.6 765.7 1496.9 772 1497.1C778.4 1497.4 784.7 1497.7 791 1498C797.3 1498.2 803.6 1498.5 809.9 1498.8C816.2 1499.1 822.6 1499.3 828.9 1499.6C835.2 1499.9 841.5 1500.2 847.8 1500.5C854.1 1500.8 860.4 1501 866.8 1501.3C873.1 1501.6 879.4 1501.9 885.7 1502.2C892 1502.5 898.3 1502.8 904.6 1503.1C910.9 1503.4 917.2 1503.8 923.6 1504.1C929.9 1504.4 936.2 1504.7 942.5 1505C948.8 1505.4 955.1 1505.7 961.4 1506C967.7 1506.4 974 1506.7 980.3 1507.1C986.7 1507.4 993 1507.8 999.3 1508.1C1005.6 1508.5 1011.9 1508.8 1018.2 1509.2C1024.5 1509.6 1030.8 1510 1037.1 1510.3C1043.4 1510.7 1049.7 1511.1 1056 1511.5C1062.3 1511.9 1068.6 1512.3 1074.9 1512.7C1081.3 1513.1 1087.6 1513.6 1093.9 1514C1100.2 1514.4 1106.5 1514.9 1112.8 1515.3C1119.1 1515.7 1125.4 1516.2 1131.7 1516.7C1138 1517.1 1144.3 1517.6 1150.6 1518.1C1156.9 1518.6 1163.2 1519 1169.5 1519.5C1175.8 1520 1182.1 1520.5 1188.4 1521.1C1194.7 1521.6 1200.9 1522.1 1207.2 1522.6C1213.5 1523.2 1219.8 1523.7 1226.1 1524.3C1232.4 1524.8 1241.9 1525.7 1245 1526"/>
<text x="1015" y="385.5" textLength="103" lengthAdjust="spacing" style="font-size:23.2px">IIB; 2 мГн</text>
<text x="1044.3" y="731.2" class="m i" style="font-size:32.5px">2</text>
<text transform="translate(823.3 1130.2) skewX(-12)" x="0" y="0" class="m" style="font-family:NanumGothic,'Liberation Sans',sans-serif;font-size:32.5px;stroke-width:1.1px">1</text>
<text x="405.8" y="1727" class="t r">0</text>
<text x="405.8" y="1548.5" class="t r">5</text>
<text x="405.8" y="1370" class="t r">10</text>
<text x="405.8" y="1191.5" class="t r">15</text>
<text x="405.8" y="1014.2" class="t r">20</text>
<text x="405.8" y="836" class="t r">25</text>
<text x="405.8" y="657" class="t r">30</text>
<text x="405.8" y="479.8" class="t r">35</text>
<text x="405.8" y="301.5" class="t r">40</text>
<text x="428.6" y="1755.8" class="t m">0</text>
<text x="564.5" y="1755.8" class="t m">50</text>
<text x="701.4" y="1755.8" class="t m">100</text>
<text x="838.4" y="1755.8" class="t m">150</text>
<text x="974.2" y="1755.8" class="t m">200</text>
<text x="1110.7" y="1755.8" class="t m">250</text>
<text x="1245.9" y="1755.8" class="t m">300</text>
<text x="353.3" y="325.8" class="r" style="font-size:23.6px">200 нФ</text>
<text x="353.3" y="621.1" class="r" style="font-size:23.6px">300 нФ</text>
<text x="353.3" y="859.5" class="r" style="font-size:23.6px">500 нФ</text>
<text x="353.3" y="995.7" class="r" style="font-size:23.6px">1 мкФ</text>
<text x="353.3" y="1200.1" class="r" style="font-size:23.6px">2 мкФ</text>
<text x="353.3" y="1390.4" class="r" style="font-size:23.6px">5 мкФ</text>
<text x="353.3" y="1487.6" class="r" style="font-size:23.6px">10 мкФ</text>
<text x="360" y="254.9" class="t"><tspan class="i">U</tspan><tspan dy="7.6" style="font-size:17px">о</tspan><tspan dy="-7.6" dx="0.8">, В</tspan></text>
<text x="1201" y="1781" class="t"><tspan style="font-family:'Liberation Serif',serif;font-style:italic;font-size:25px">I</tspan><tspan dy="7.6" style="font-size:17px">о</tspan><tspan dy="-7.6">, мА</tspan></text>
<text transform="translate(363.9 1845.7) skewX(-12)" x="0" y="0" style="font-family:NanumGothic,'Liberation Sans',sans-serif;font-size:22.5px;stroke-width:0.7px">1</text>
<text x="384" y="1845.7" textLength="825.8" lengthAdjust="spacing" style="font-size:21.4px">— предельная индуктивность для источника с прямоугольной характеристикой;</text>
<text x="396.5" y="1872.8" textLength="782" lengthAdjust="spacing" style="font-size:21.4px"><tspan class="i">2</tspan> — предельная индуктивность для источника с линейной характеристикой</text>
<text x="590" y="1917.8" textLength="393.5" lengthAdjust="spacing" style="font-size:24.5px">d) Диаграмма для значения 2 мГн</text>
<text x="1456.6" y="2136.4" class="r" style="font-size:25px">35</text>
</svg></body></html>
